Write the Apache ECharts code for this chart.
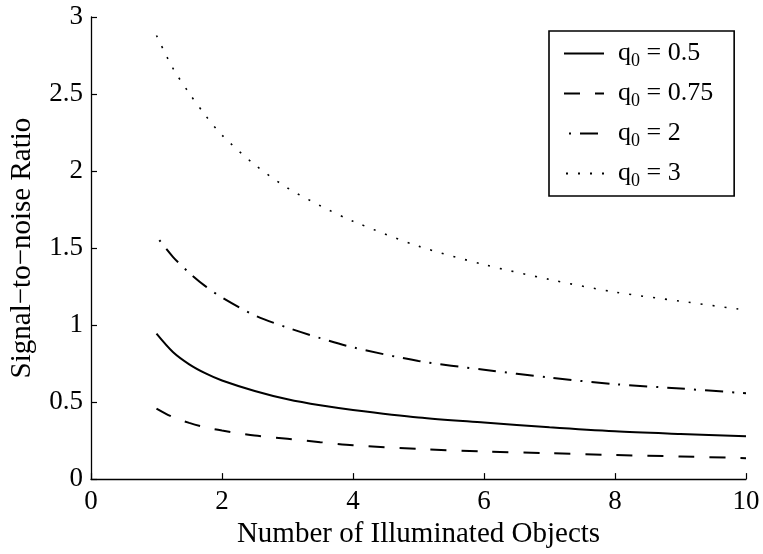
<!DOCTYPE html>
<html>
<head>
<meta charset="utf-8">
<script src="https://cdn.jsdelivr.net/npm/echarts@6/dist/echarts.min.js"></script>
<style>html,body{margin:0;padding:0;background:#fff}#c{width:763px;height:554px}</style>
</head>
<body>
<div id="c"></div>
<script>
const xValues = [1, 1.25, 1.5, 1.75, 2, 2.5, 3, 3.5, 4, 5, 6, 7, 8, 9, 10];
const q05 = [0.944, 0.825, 0.745, 0.686, 0.64, 0.572, 0.518, 0.479, 0.449, 0.40, 0.367, 0.336, 0.31, 0.293, 0.278];
const q075 = [0.458, 0.402, 0.365, 0.335, 0.315, 0.283, 0.262, 0.24, 0.22, 0.196, 0.179, 0.168, 0.156, 0.147, 0.136];
const q2 = [1.576, 1.443, 1.339, 1.251, 1.179, 1.063, 0.983, 0.915, 0.855, 0.767, 0.71, 0.659, 0.616, 0.588, 0.557];
const q3 = [2.88, 2.668, 2.505, 2.36, 2.233, 2.041, 1.89, 1.775, 1.674, 1.512, 1.393, 1.296, 1.214, 1.155, 1.097];
const seriesNames = ['0.5', '0.75', '2', '3'];
const xTitle = 'Number of Illuminated Objects';
const yTitle = 'Signal\u2212to\u2212noise Ratio';

const FONT = 'Liberation Serif';
const pair = (ys) => xValues.map((x, i) => [x, ys[i]]);
const styles = [
  { type: 'solid', width: 2 },
  { type: [16, 15], width: 2 },
  { type: [18, 9, 2, 9], width: 2, dashOffset: 22 },
  { type: [2, 10], width: 1.6 }
];
const allData = [q05, q075, q2, q3];

const chart = echarts.init(document.getElementById('c'), null, { renderer: 'canvas' });
chart.setOption({
  animation: false,
  backgroundColor: '#fff',
  grid: { left: 91, right: 17, top: 17, bottom: 74 },
  xAxis: {
    type: 'value', min: 0, max: 10, interval: 2,
    name: xTitle, nameLocation: 'middle', nameGap: 40,
    nameTextStyle: { fontFamily: FONT, fontSize: 29, color: '#000' },
    axisLine: { lineStyle: { color: '#000', width: 1.3 } },
    axisTick: { inside: true, length: 6, lineStyle: { color: '#000', width: 1.2 } },
    axisLabel: { fontFamily: FONT, fontSize: 27, color: '#000', margin: 9 },
    splitLine: { show: false }
  },
  yAxis: {
    type: 'value', min: 0, max: 3, interval: 0.5,
    name: yTitle, nameLocation: 'middle', nameGap: 54, nameRotate: 90,
    nameTextStyle: { fontFamily: FONT, fontSize: 29, color: '#000' },
    axisLine: { show: true, lineStyle: { color: '#000', width: 1.3 } },
    axisTick: { show: true, inside: true, length: 6, lineStyle: { color: '#000', width: 1.2 } },
    axisLabel: { fontFamily: FONT, fontSize: 27, color: '#000', margin: 8 },
    splitLine: { show: false }
  },
  legend: {
    orient: 'vertical',
    left: 549, top: 31,
    padding: [6, 21, 6, 14],
    itemWidth: 40, itemHeight: 14, itemGap: 7,
    borderColor: '#000', borderWidth: 1.6,
    backgroundColor: '#fff',
    itemStyle: { opacity: 0 },
    data: seriesNames.map(n => 'q0 = ' + n),
    formatter: (name) => '{q|q}{s|0}{t|' + name.slice(2) + '}',
    textStyle: {
      color: '#000',
      rich: {
        q: { fontFamily: FONT, fontSize: 26, color: '#000', padding: [0, 0, 0, 9], lineHeight: 30, verticalAlign: 'middle' },
        s: { fontFamily: FONT, fontSize: 18, color: '#000', padding: [15, 0, 0, 0], lineHeight: 18, verticalAlign: 'middle' },
        t: { fontFamily: FONT, fontSize: 26, color: '#000', lineHeight: 30, verticalAlign: 'middle' }
      }
    }
  },
  series: allData.map((d, i) => ({
    type: 'line',
    name: 'q0 = ' + seriesNames[i],
    data: pair(d),
    smooth: 0.3,
    symbol: 'none',
    color: '#000',
    lineStyle: Object.assign({ color: '#000', cap: 'butt' }, styles[i])
  }))
});
</script>
</body>
</html>
